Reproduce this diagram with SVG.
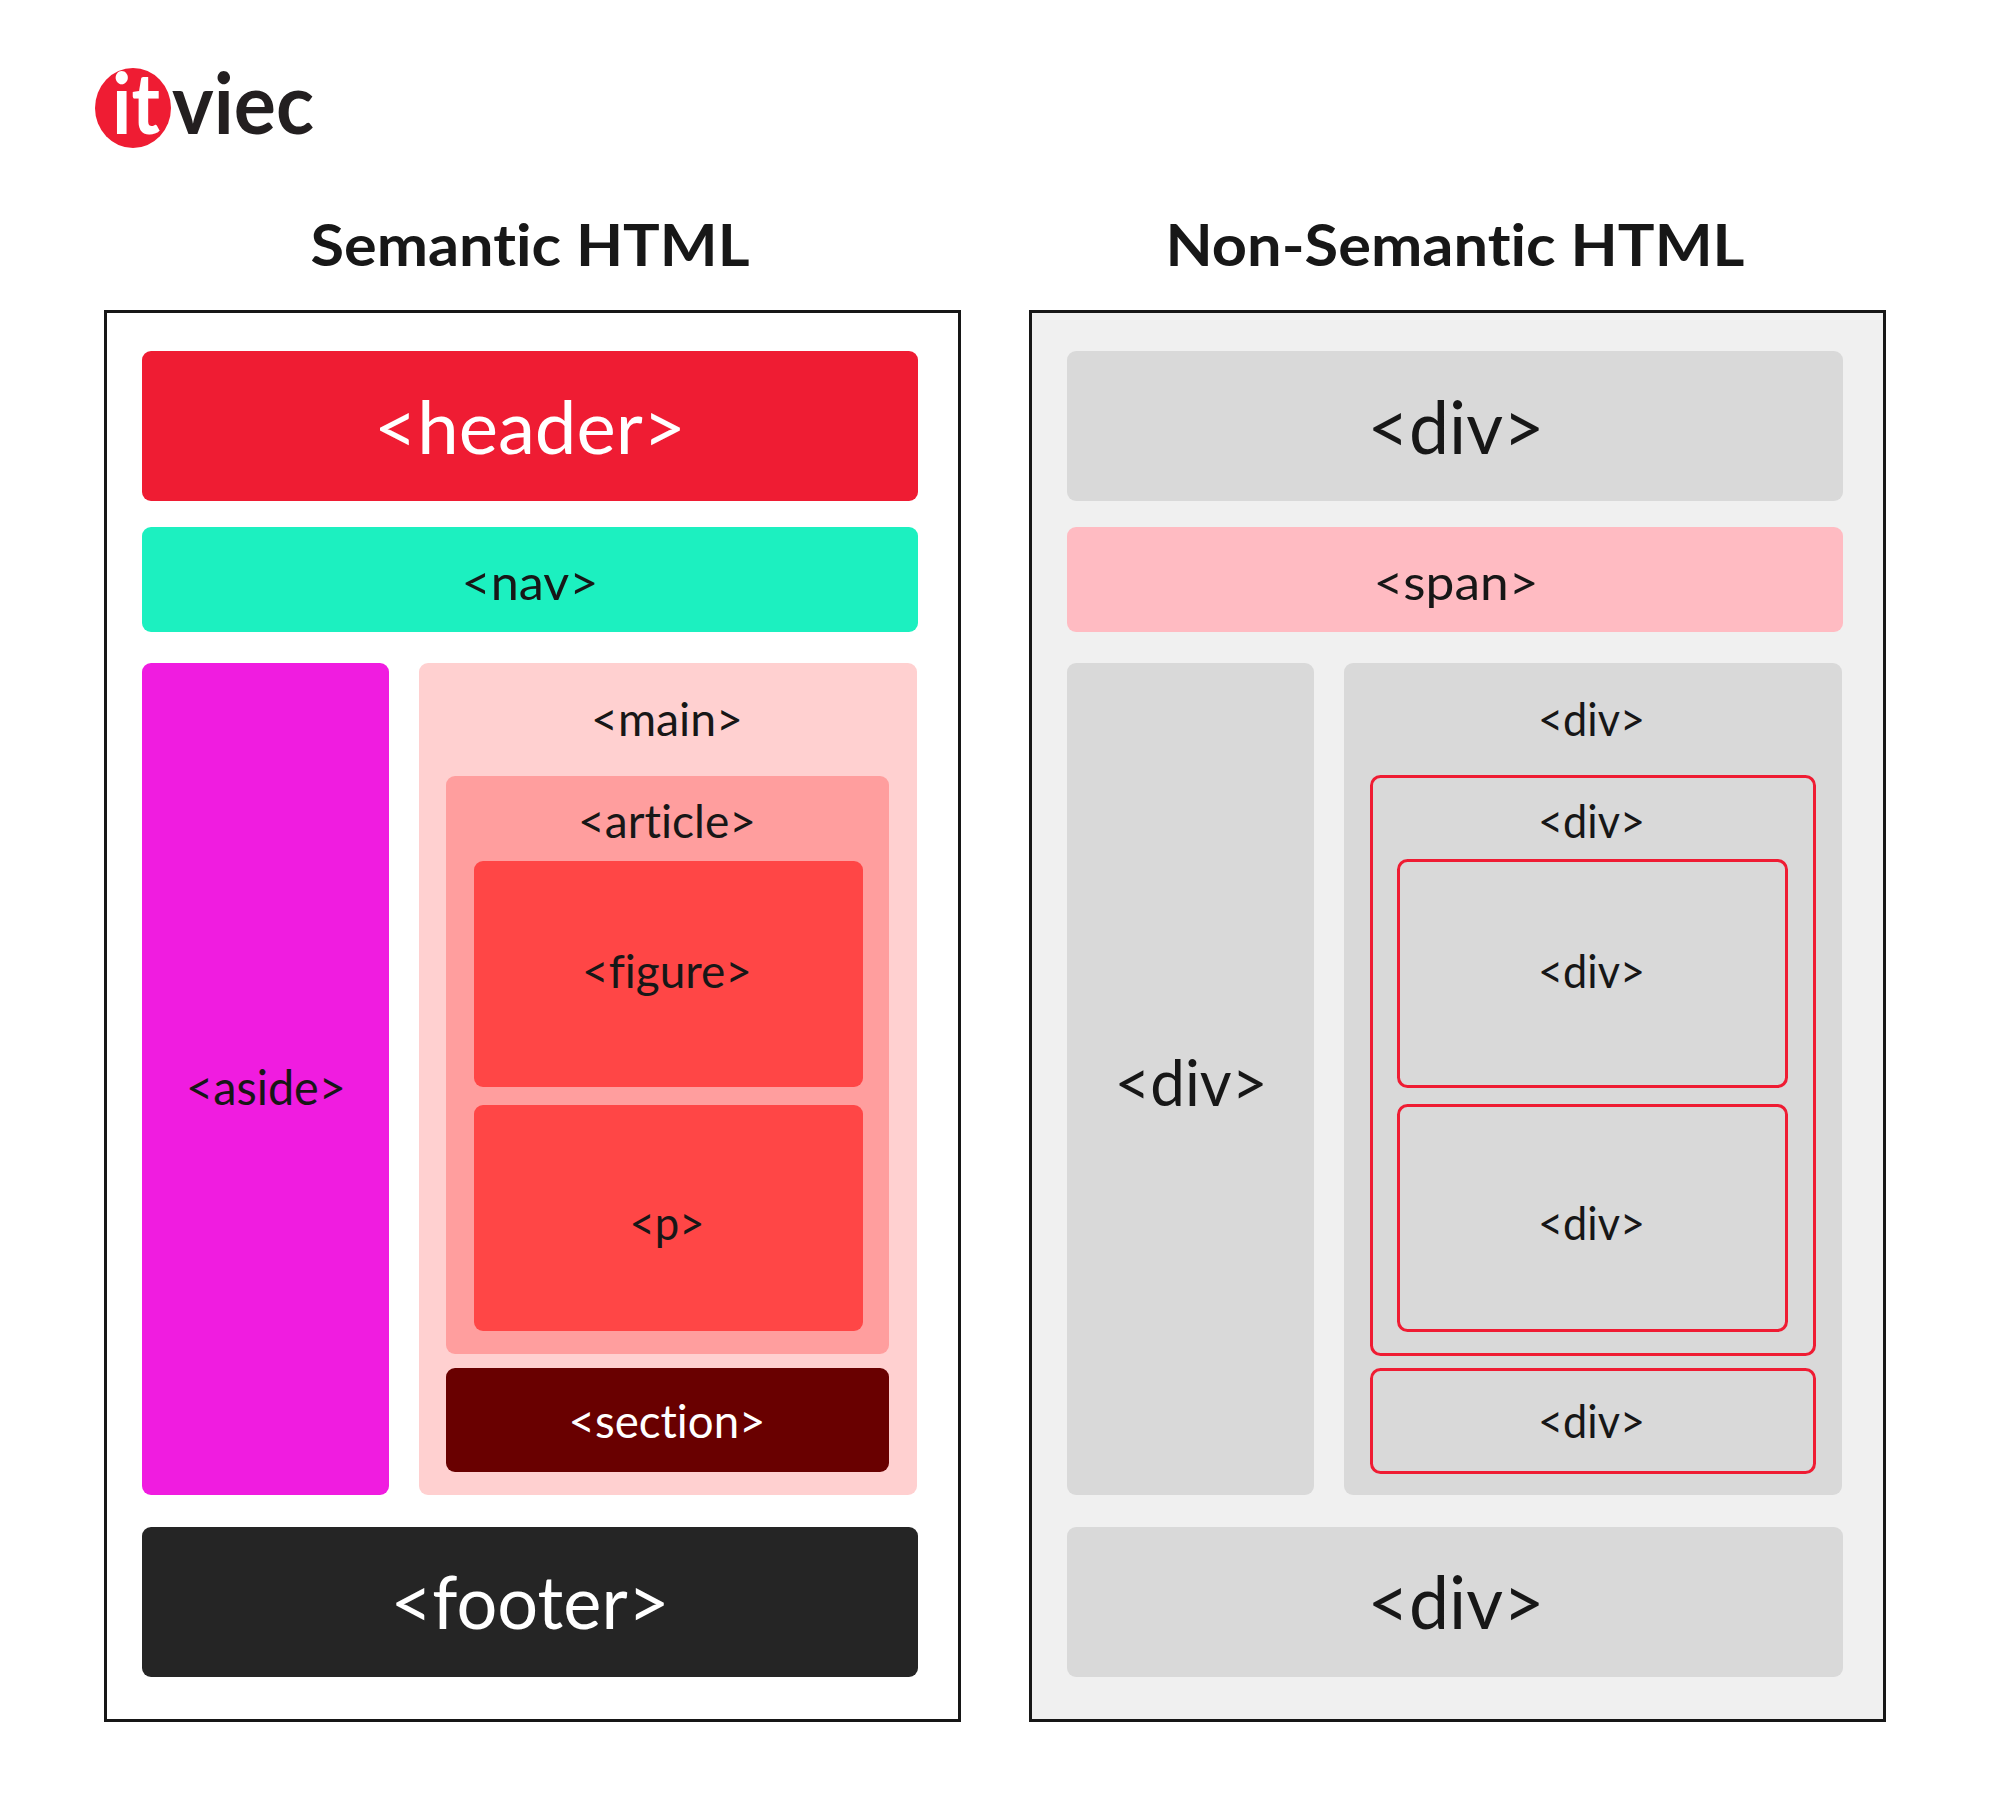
<svg xmlns="http://www.w3.org/2000/svg" width="1990" height="1799" viewBox="0 0 1990 1799">
<style>
text{font-family:"Lato","Liberation Sans",sans-serif;text-anchor:middle;fill:#171717;font-weight:400;font-variant-ligatures:none}
.t{font-size:57px;font-weight:700}
.xl{font-size:74px}.xm{font-size:64px}.l{font-size:48px}.m{font-size:46px}
.w{fill:#fff}
.lg{font-size:85px;font-weight:700;text-anchor:start}
.panel{stroke:#171717;stroke-width:3}
.g{fill:#d9d9d9}
.o{fill:#d9d9d9;stroke:#ef1c33;stroke-width:3}
</style>
<rect width="1990" height="1799" fill="#fff"/>
<g id="logo"><ellipse cx="133" cy="108" rx="38" ry="40" fill="#ef1c33"/>
<text class="lg w" x="112" y="134" textLength="48" lengthAdjust="spacingAndGlyphs">it</text>
<text class="lg" x="172" y="134" textLength="142" lengthAdjust="spacingAndGlyphs" style="fill:#231f20">viec</text></g>
<g id="title-semantic"><text class="t" x="530" y="266" textLength="439" lengthAdjust="spacingAndGlyphs">Semantic HTML</text></g>
<g id="title-non-semantic"><text class="t" x="1455" y="266" textLength="579" lengthAdjust="spacingAndGlyphs">Non-Semantic HTML</text></g>
<g id="panel-semantic"><rect class="panel" x="105.5" y="311.5" width="854" height="1409" fill="#fff"/></g>
<g id="panel-non-semantic"><rect class="panel" x="1030.500" y="311.5" width="854" height="1409" fill="#f0f0f0"/></g>
<g id="header"><rect x="142" y="351" width="776" height="150" rx="9" fill="#ef1c33"/><text class="xl w" x="530" y="454" textLength="312" lengthAdjust="spacingAndGlyphs">&lt;header&gt;</text></g>
<g id="nav"><rect x="142" y="527" width="776" height="105" rx="9" fill="#1cf0c0"/><text class="l" x="530" y="600" textLength="137" lengthAdjust="spacingAndGlyphs">&lt;nav&gt;</text></g>
<g id="aside"><rect x="142" y="663" width="247" height="832" rx="9" fill="#f01ce0"/><text class="l" x="266" y="1105" textLength="160" lengthAdjust="spacingAndGlyphs">&lt;aside&gt;</text></g>
<g id="main"><rect x="419" y="663" width="498" height="832" rx="9" fill="#ffd0d0"/><text class="m" x="667" y="736" textLength="152" lengthAdjust="spacingAndGlyphs">&lt;main&gt;</text></g>
<g id="article"><rect x="446" y="776" width="443" height="578" rx="9" fill="#ff9e9e"/><text class="m" x="667" y="838" textLength="178" lengthAdjust="spacingAndGlyphs">&lt;article&gt;</text></g>
<g id="figure"><rect x="474" y="861" width="389" height="226" rx="9" fill="#ff4646"/><text class="m" x="667" y="988" textLength="170" lengthAdjust="spacingAndGlyphs">&lt;figure&gt;</text></g>
<g id="p"><rect x="474" y="1105" width="389" height="226" rx="9" fill="#ff4646"/><text class="m" x="667" y="1240" textLength="75" lengthAdjust="spacingAndGlyphs">&lt;p&gt;</text></g>
<g id="section"><rect x="446" y="1368" width="443" height="104" rx="9" fill="#690000"/><text class="m w" x="667" y="1438" textLength="197" lengthAdjust="spacingAndGlyphs">&lt;section&gt;</text></g>
<g id="footer"><rect x="142" y="1527" width="776" height="150" rx="9" fill="#252525"/><text class="xl w" x="530" y="1629" textLength="279" lengthAdjust="spacingAndGlyphs">&lt;footer&gt;</text></g>
<g id="div-1"><rect class="g" x="1067" y="351" width="776" height="150" rx="9"/><text class="xl" x="1456" y="454" textLength="177" lengthAdjust="spacingAndGlyphs">&lt;div&gt;</text></g>
<g id="span"><rect x="1067" y="527" width="776" height="105" rx="9" fill="#ffbbc2"/><text class="l" x="1456" y="600" textLength="165" lengthAdjust="spacingAndGlyphs">&lt;span&gt;</text></g>
<g id="div-2"><rect class="g" x="1067" y="663" width="247" height="832" rx="9"/><text class="xm" x="1191" y="1106" textLength="153" lengthAdjust="spacingAndGlyphs">&lt;div&gt;</text></g>
<g id="div-3"><rect class="g" x="1344" y="663" width="498" height="832" rx="9"/><text class="m" x="1591.500" y="736" textLength="107" lengthAdjust="spacingAndGlyphs">&lt;div&gt;</text></g>
<g id="div-4"><rect class="o" x="1371.500" y="776.500" width="443" height="578" rx="9"/><text class="m" x="1591.500" y="838" textLength="107" lengthAdjust="spacingAndGlyphs">&lt;div&gt;</text></g>
<g id="div-5"><rect class="o" x="1398.500" y="860.500" width="388" height="226" rx="9"/><text class="m" x="1591.500" y="988" textLength="107" lengthAdjust="spacingAndGlyphs">&lt;div&gt;</text></g>
<g id="div-6"><rect class="o" x="1398.500" y="1105.500" width="388" height="225" rx="9"/><text class="m" x="1591.500" y="1240" textLength="107" lengthAdjust="spacingAndGlyphs">&lt;div&gt;</text></g>
<g id="div-7"><rect class="o" x="1371.500" y="1369.500" width="443" height="103" rx="9"/><text class="m" x="1591.500" y="1438" textLength="107" lengthAdjust="spacingAndGlyphs">&lt;div&gt;</text></g>
<g id="div-8"><rect class="g" x="1067" y="1527" width="776" height="150" rx="9"/><text class="xl" x="1456" y="1629" textLength="177" lengthAdjust="spacingAndGlyphs">&lt;div&gt;</text></g>
</svg>
